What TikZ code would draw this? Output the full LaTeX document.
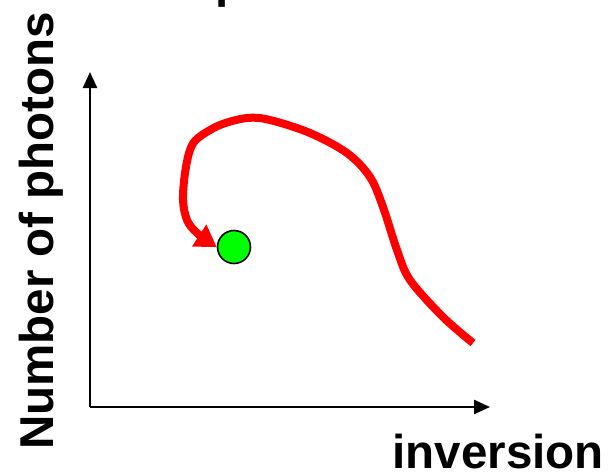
\documentclass[tikz,border=0pt]{standalone}
\usepackage{fontspec}
\setmainfont{Liberation Sans}
\usetikzlibrary{arrows.meta}
\begin{document}
\begin{tikzpicture}[x=1pt,y=-1pt,
  axis/.style={line width=2.4pt,-{Triangle[length=16pt,width=14pt]}},
  lbl/.style={font=\fontsize{47.5}{50}\selectfont\bfseries,inner sep=0pt},
  curve/.style={draw=red,line width=8pt,-{Triangle[length=21pt,width=25pt]}},
  dot/.style={circle,fill=green,draw=black,line width=1.6pt,minimum size=33pt,inner sep=0pt}]
\useasboundingbox (0,0) rectangle (610,475);
\clip (0,0) rectangle (610,475);
\node[lbl,anchor=base west] (title) at (215,-3) {p};
\coordinate (o) at (90,407);
\coordinate (ytip) at (90,72);
\coordinate (xtip) at (490,407);
\draw[axis] (o) -- (ytip);
\draw[axis] (o) -- (xtip);
\node[lbl,rotate=90,anchor=base west] (ylab) at (53,450) {Number of photons};
\node[lbl,anchor=base east] (xlab) at (604,468) {inversion};
\node[dot] (dot) at (234,247) {};
\coordinate (start) at (473,343);
\draw[curve] plot[smooth,tension=0.55] coordinates {(start) (443,317) (410,280) (397,250) (383,207) (370,177) (347,153) (310,133) (270,120) (247,118) (220,125) (198,138) (190,150) (185,173) (183,200) (187,220) (197,233) (dot.west)};
\end{tikzpicture}
\end{document}
